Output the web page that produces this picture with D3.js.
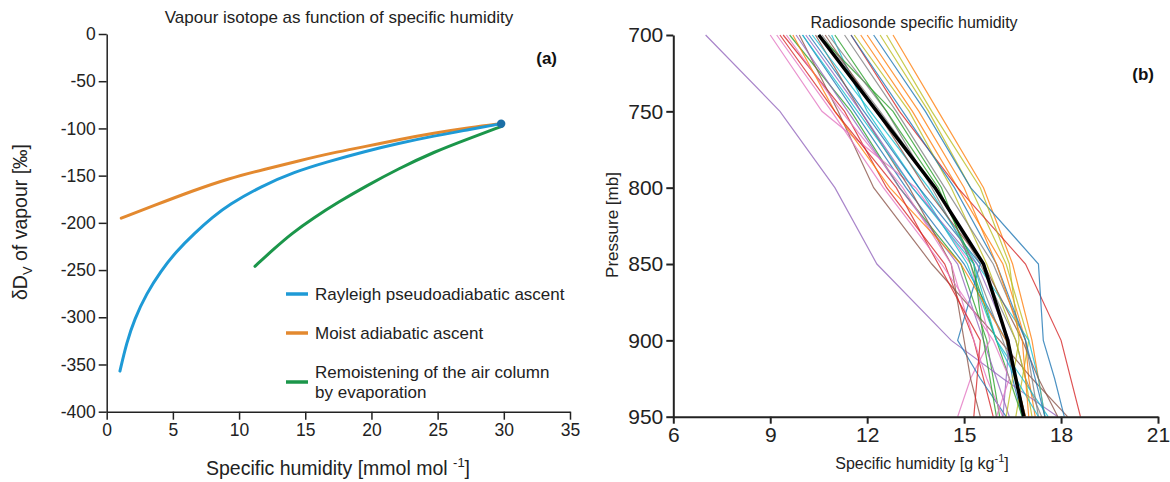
<!DOCTYPE html>
<html>
<head>
<meta charset="utf-8">
<script src="https://cdn.jsdelivr.net/npm/d3@7"></script>
<style>
  body { margin: 0; background: #fff; }
  svg { display: block; font-family: "Liberation Sans", Arial, sans-serif; }
  .axis path, .axis line { stroke: #222; }
  .axis text { fill: #222; }
</style>
</head>
<body>
<div id="chart"></div>
<script>
// ---- panel (a) data : specific humidity [mmol/mol] vs dD of vapour
var rayleighQ = [1.0, 1.5, 2.1, 3.0, 4.1, 5.2, 6.7, 8.0, 9.2, 11.7, 14.2, 16.5, 19.6, 22.0, 24.7, 27.5, 29.8];
var rayleighD = [-357, -327, -302, -275, -251, -231, -210, -194, -181, -161, -146, -136, -124, -116, -108, -101, -95];
var moistQ = [1.1, 3.5, 6.5, 9.2, 12.0, 14.6, 17.0, 19.6, 22.0, 24.7, 27.5, 29.8];
var moistD = [-195, -182, -166, -153, -143, -134, -126, -119, -112, -105, -99, -95];
var remoistQ = [11.2, 12.6, 14.0, 15.6, 17.5, 19.6, 22.0, 24.7, 27.5, 29.8];
var remoistD = [-246, -228, -211, -195, -178, -161, -143, -125, -110, -98];
var startPoint = [29.8, -95];
var legendLabels = [["Rayleigh pseudoadiabatic ascent"], ["Moist adiabatic ascent"], ["Remoistening of the air column", "by evaporation"]];
var xTicksA = [0, 5, 10, 15, 20, 25, 30, 35];
var yTicksA = [0, -50, -100, -150, -200, -250, -300, -350, -400];

// ---- panel (b) data : radiosonde profiles, specific humidity [g/kg] at each level
var levels = [700, 750, 800, 850, 900, 925, 950];
var profiles = [
  [10.0, 11.6, 13.2, 15.0, 16.3, 16.5, 16.8],
  [11.8, 13.4, 14.8, 16.2, 16.9, 17.0, 17.2],
  [9.6, 11.5, 13.0, 14.9, 15.7, 15.9, 16.1],
  [9.4, 11.3, 12.6, 14.4, 15.3, 15.6, 15.9],
  [7.0, 9.3, 11.0, 12.3, 14.6, 16.2, 17.9],
  [9.9, 11.1, 12.2, 14.0, 16.1, 17.1, 18.2],
  [9.0, 10.6, 13.5, 15.2, 15.8, 15.2, 14.8],
  [10.6, 12.4, 14.1, 15.5, 16.6, 16.9, 17.4],
  [12.4, 13.9, 15.2, 16.3, 17.0, 16.8, 16.6],
  [10.9, 12.0, 13.6, 15.1, 16.0, 16.8, 17.6],
  [10.2, 11.9, 13.6, 15.5, 14.8, 15.5, 16.3],
  [12.8, 14.2, 15.6, 16.5, 17.1, 17.3, 17.5],
  [10.5, 12.8, 14.3, 15.2, 16.0, 16.4, 16.8],
  [11.5, 13.0, 14.8, 16.9, 18.0, 18.3, 18.6],
  [9.8, 11.4, 13.0, 14.8, 15.6, 16.0, 16.4],
  [10.4, 11.8, 13.3, 14.6, 15.0, 15.2, 15.5],
  [9.5, 11.2, 13.1, 14.6, 15.3, 15.7, 16.2],
  [10.8, 12.6, 14.0, 15.3, 16.2, 16.6, 16.9],
  [11.6, 13.3, 14.6, 15.7, 16.6, 16.9, 17.1],
  [10.3, 12.1, 13.9, 15.4, 17.0, 17.3, 17.5],
  [12.2, 13.8, 15.2, 17.3, 17.45, 17.8, 18.1],
  [9.7, 11.0, 12.7, 14.9, 16.3, 16.6, 16.9],
  [11.0, 12.6, 14.2, 15.3, 15.6, 15.8, 16.0],
  [9.3, 11.0, 12.9, 14.2, 15.5, 15.4, 15.3],
  [10.1, 11.8, 13.4, 15.4, 16.4, 16.3, 16.2],
  [10.7, 12.3, 13.8, 15.6, 16.8, 17.3, 17.9],
  [9.2, 10.9, 12.5, 14.3, 15.9, 16.4, 16.0],
  [11.3, 12.9, 14.4, 15.9, 16.9, 17.1, 17.3],
  [12.6, 14.0, 15.5, 16.4, 16.7, 16.5, 16.3],
  [10.0, 11.7, 13.4, 15.3, 16.0, 16.6, 17.3],
  [11.5, 13.1, 14.7, 16.0, 16.9, 17.2, 17.5],
  [12.0, 13.6, 15.0, 16.0, 16.8, 16.9, 17.0]
];
var meanProfile = [10.5, 12.3, 14.1, 15.6, 16.35, 16.6, 16.85];
var xTicksB = [6, 9, 12, 15, 18, 21];
var yTicksB = [700, 750, 800, 850, 900, 950];

var lineColors = ["#1f77b4", "#ff7f0e", "#2ca02c", "#d62728", "#9467bd", "#8c564b", "#e377c2", "#7f7f7f", "#bcbd22", "#17becf"];
var seriesColors = ["#1e9ad6", "#e3892f", "#1b964a"];

var svg = d3.select('#chart').append('svg')
  .attr('width', 1170)
  .attr('height', 482);

// ================= panel (a)
var xA = d3.scaleLinear().domain([0, 35]).range([106.7, 570]);
var yA = d3.scaleLinear().domain([0, -400]).range([34, 411.7]);

svg.append('g')
  .attr('class', 'axis')
  .attr('transform', 'translate(0,' + yA(-400) + ')')
  .call(d3.axisBottom(xA).tickValues(xTicksA).tickSize(8).tickSizeOuter(0).tickPadding(4).tickFormat(function(d){ return String(d); }))
  .call(function(g){
    g.selectAll('path, line').attr('stroke-width', 1.5);
    g.selectAll('text').attr('font-size', 17.5);
  });

svg.append('g')
  .attr('class', 'axis')
  .attr('transform', 'translate(' + xA(0) + ',0)')
  .call(d3.axisLeft(yA).tickValues(yTicksA).tickSize(8).tickSizeOuter(0).tickPadding(3).tickFormat(function(d){ return String(d); }))
  .call(function(g){
    g.selectAll('path, line').attr('stroke-width', 1.5);
    g.selectAll('text').attr('font-size', 17.5);
  });

var lineA = d3.line()
  .x(function(d){ return xA(d[0]); })
  .y(function(d){ return yA(d[1]); })
  .curve(d3.curveBasis);

var seriesA = [
  d3.zip(remoistQ, remoistD),
  d3.zip(moistQ, moistD),
  d3.zip(rayleighQ, rayleighD)
];
var seriesColorA = [seriesColors[2], seriesColors[1], seriesColors[0]];

svg.selectAll('.curveA')
  .data(seriesA)
  .enter()
  .append('path')
    .classed('curveA', 1)
    .attr('d', lineA)
    .attr('fill', 'none')
    .attr('stroke', function(d, i){ return seriesColorA[i]; })
    .attr('stroke-width', 3)
    .attr('stroke-linecap', 'round');

svg.append('circle')
  .attr('cx', xA(startPoint[0]))
  .attr('cy', yA(startPoint[1]))
  .attr('r', 4.2)
  .attr('fill', '#1b6fa6');

// legend
var legY = [294, 333, 382];
legendLabels.forEach(function(lines, i){
  svg.append('line')
    .attr('x1', 286).attr('x2', 308)
    .attr('y1', legY[i]).attr('y2', legY[i])
    .attr('stroke', seriesColors[i])
    .attr('stroke-width', 3.5);
  var t = svg.append('text')
    .attr('x', 315)
    .attr('font-size', 17)
    .attr('fill', '#222');
  if (lines.length === 1) {
    t.attr('y', legY[i] + 6).text(lines[0]);
  } else {
    t.append('tspan').attr('x', 315).attr('y', legY[i] - 4).text(lines[0]);
    t.append('tspan').attr('x', 315).attr('y', legY[i] + 16).text(lines[1]);
  }
});

svg.append('text')
  .attr('x', 339).attr('y', 23)
  .attr('text-anchor', 'middle')
  .attr('font-size', 17)
  .attr('fill', '#222')
  .text('Vapour isotope as function of specific humidity');

svg.append('text')
  .attr('x', 557).attr('y', 64)
  .attr('text-anchor', 'end')
  .attr('font-size', 17)
  .attr('font-weight', 'bold')
  .attr('fill', '#111')
  .text('(a)');

var xlabA = svg.append('text')
  .attr('x', 338).attr('y', 475)
  .attr('text-anchor', 'middle')
  .attr('font-size', 19.5)
  .attr('fill', '#222');
xlabA.append('tspan').text('Specific humidity [mmol mol ');
xlabA.append('tspan').attr('font-size', 13).attr('dy', -8).text('-1');
xlabA.append('tspan').attr('dy', 8).text(']');

var ylabA = svg.append('text')
  .attr('transform', 'translate(27,222) rotate(-90)')
  .attr('text-anchor', 'middle')
  .attr('font-size', 19.5)
  .attr('fill', '#222');
ylabA.append('tspan').text('\u03B4D');
ylabA.append('tspan').attr('font-size', 13).attr('dy', 5).text('V');
ylabA.append('tspan').attr('dy', -5).text(' of vapour [\u2030]');

// ================= panel (b)
var xB = d3.scaleLinear().domain([6, 21]).range([673.3, 1158]);
var yB = d3.scaleLinear().domain([700, 950]).range([35, 416.7]);

var lineB = d3.line()
  .x(function(d){ return xB(d[0]); })
  .y(function(d){ return yB(d[1]); });

svg.selectAll('.sonde')
  .data(profiles)
  .enter()
  .append('path')
    .classed('sonde', 1)
    .attr('d', function(d){ return lineB(d3.zip(d, levels)); })
    .attr('fill', 'none')
    .attr('stroke', function(d, i){ return lineColors[i % lineColors.length]; })
    .attr('stroke-opacity', 0.8)
    .attr('stroke-width', 1.2);

svg.append('path')
  .attr('d', lineB(d3.zip(meanProfile, levels)))
  .attr('fill', 'none')
  .attr('stroke', '#000')
  .attr('stroke-width', 3.5);

svg.append('g')
  .attr('class', 'axis')
  .attr('transform', 'translate(0,' + yB(950) + ')')
  .call(d3.axisBottom(xB).tickValues(xTicksB).tickSize(7).tickSizeOuter(0).tickPadding(3).tickFormat(function(d){ return String(d); }))
  .call(function(g){
    g.selectAll('path, line').attr('stroke-width', 2);
    g.selectAll('text').attr('font-size', 21);
  });

svg.append('g')
  .attr('class', 'axis')
  .attr('transform', 'translate(' + xB(6) + ',0)')
  .call(d3.axisLeft(yB).tickValues(yTicksB).tickSize(7).tickSizeOuter(0).tickPadding(3).tickFormat(function(d){ return String(d); }))
  .call(function(g){
    g.selectAll('path, line').attr('stroke-width', 2);
    g.selectAll('text').attr('font-size', 21);
  });

svg.append('text')
  .attr('x', 914).attr('y', 28)
  .attr('text-anchor', 'middle')
  .attr('font-size', 16)
  .attr('fill', '#222')
  .text('Radiosonde specific humidity');

svg.append('text')
  .attr('x', 1154).attr('y', 80)
  .attr('text-anchor', 'end')
  .attr('font-size', 17)
  .attr('font-weight', 'bold')
  .attr('fill', '#111')
  .text('(b)');

var xlabB = svg.append('text')
  .attr('x', 922).attr('y', 469)
  .attr('text-anchor', 'middle')
  .attr('font-size', 16)
  .attr('fill', '#222');
xlabB.append('tspan').text('Specific humidity [g kg');
xlabB.append('tspan').attr('font-size', 11).attr('dy', -7).text('-1');
xlabB.append('tspan').attr('dy', 7).text(']');

svg.append('text')
  .attr('transform', 'translate(618,225) rotate(-90)')
  .attr('text-anchor', 'middle')
  .attr('font-size', 17)
  .attr('fill', '#222')
  .text('Pressure [mb]');
</script>
</body>
</html>
